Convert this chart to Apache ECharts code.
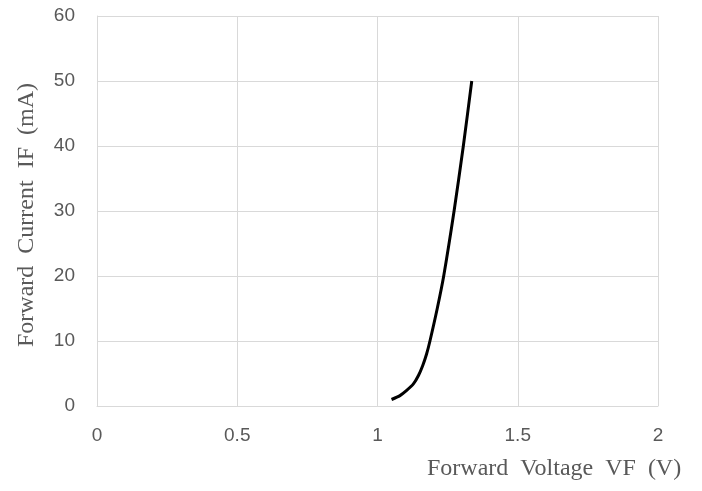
<!DOCTYPE html>
<html>
<head>
<meta charset="utf-8">
<script src="https://cdn.jsdelivr.net/npm/echarts@6/dist/echarts.min.js"></script>
<style>
  html, body { margin: 0; padding: 0; background: #ffffff; }
  #chart { width: 702px; height: 491px; }
</style>
</head>
<body>
<div id="chart"></div>
<script>
// Forward voltage (V) and forward current (mA) of the diode I-V curve
const voltage = [1.050, 1.080, 1.104, 1.128, 1.146, 1.161, 1.175, 1.187, 1.213, 1.236, 1.273, 1.306, 1.336];
const current = [1.0, 1.6, 2.4, 3.4, 4.7, 6.2, 8.0, 10.0, 15.0, 20.0, 30.0, 40.0, 50.0];

const xTitle = 'Forward  Voltage  VF  (V)';
const yTitle = 'Forward  Current  IF  (mA)';

const points = voltage.map((v, i) => [v, current[i]]);

const gridColor = '#d9d9d9';
const labelColor = '#595959';

const chart = echarts.init(document.getElementById('chart'), null, { renderer: 'canvas' });
chart.setOption({
  animation: false,
  backgroundColor: '#ffffff',
  grid: { left: 97, right: 44, top: 16, bottom: 85, containLabel: false },
  xAxis: {
    type: 'value',
    min: 0, max: 2, interval: 0.5,
    axisLine: { show: true, lineStyle: { color: gridColor, width: 1 } },
    axisTick: { show: false },
    splitLine: { show: true, lineStyle: { color: gridColor, width: 1 } },
    axisLabel: {
      color: labelColor, fontFamily: 'Liberation Sans', fontSize: 19, margin: 20,
      formatter: v => String(v)
    }
  },
  yAxis: {
    type: 'value',
    min: 0, max: 60, interval: 10,
    axisLine: { show: true, lineStyle: { color: gridColor, width: 1 } },
    axisTick: { show: false },
    splitLine: { show: true, lineStyle: { color: gridColor, width: 1 } },
    axisLabel: { color: labelColor, fontFamily: 'Liberation Sans', fontSize: 19, margin: 22 }
  },
  graphic: [
    {
      type: 'text', left: 427, top: 457,
      style: { text: xTitle, fill: labelColor, font: '24px "Liberation Serif"' }
    },
    {
      type: 'text', x: 15, y: 215, rotation: Math.PI / 2,
      style: { text: yTitle, fill: labelColor, font: '24px "Liberation Serif"', align: 'center', verticalAlign: 'top' }
    }
  ],
  series: [{
    type: 'line',
    data: points,
    smooth: 0.25,
    symbol: 'none',
    lineStyle: { color: '#000000', width: 3 }
  }]
});
</script>
</body>
</html>
